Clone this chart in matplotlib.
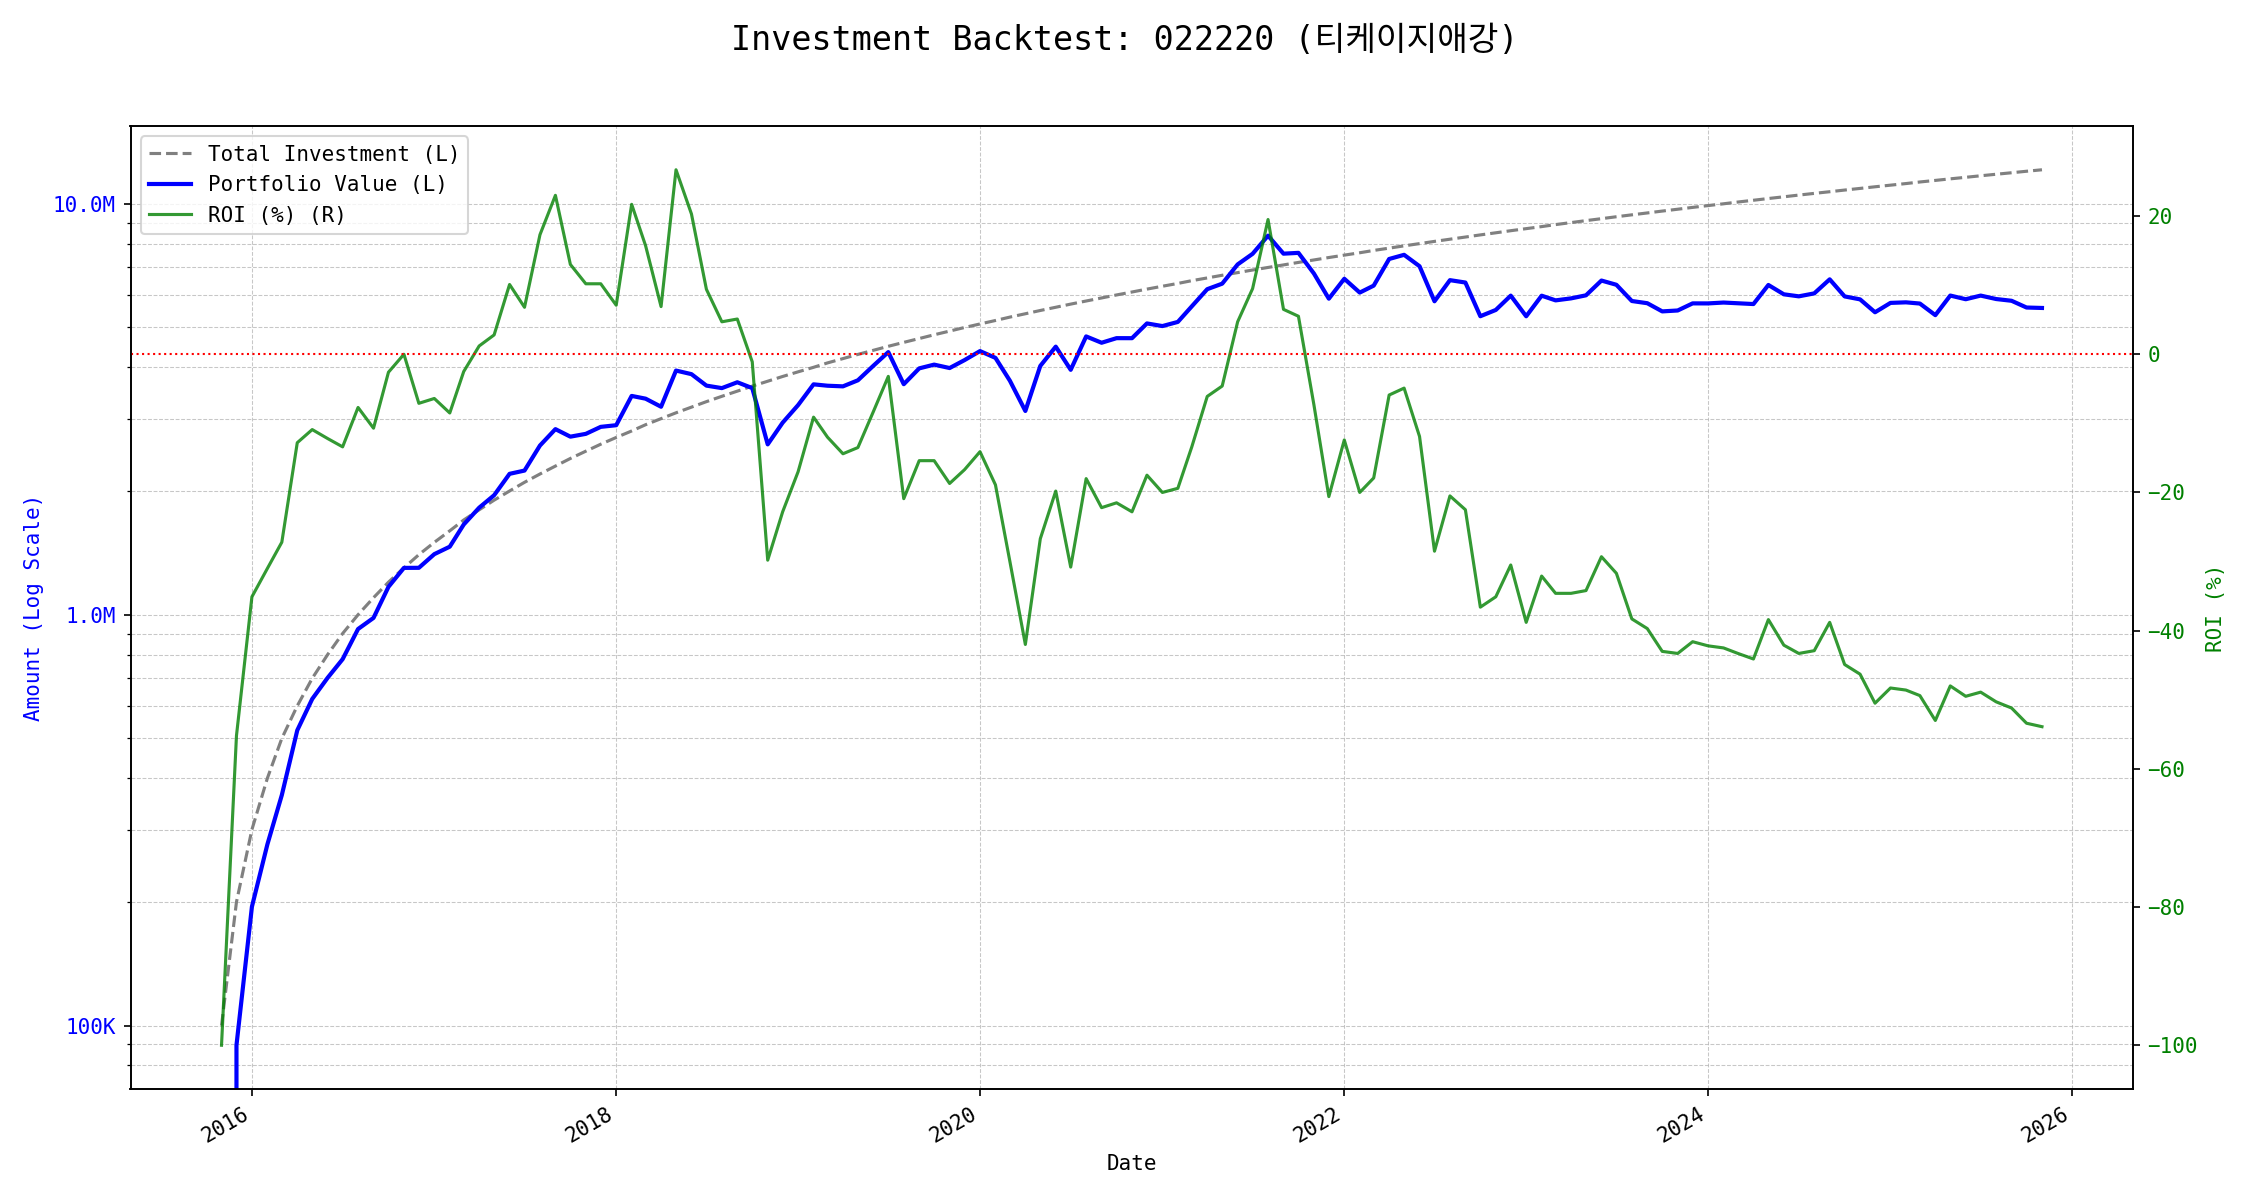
import numpy as np
import pandas as pd
import matplotlib
matplotlib.use("Agg")
import matplotlib.pyplot as plt
from matplotlib.ticker import FuncFormatter

plt.rcParams['font.family'] = ['DejaVu Sans Mono', 'Noto Sans CJK KR']

# monthly backtest data (Nov 2015 - Nov 2025)
dates = pd.date_range("2015-11-01", periods=121, freq="MS")
monthly_deposit = 100_000
roi = [
    -100.0, -55.2, -35.1, -31.0, -27.2, -12.8, -10.9, -12.2, -13.4, -7.7,
    -10.7, -2.6, 0.0, -7.1, -6.4, -8.5, -2.5, 1.2, 2.8, 10.1,
    6.8, 17.3, 23.0, 13.0, 10.2, 10.2, 7.1, 21.7, 15.7, 6.9,
    26.7, 20.3, 9.4, 4.7, 5.1, -1.1, -29.8, -22.8, -17.0, -9.1,
    -12.0, -14.4, -13.5, -8.3, -3.2, -20.9, -15.4, -15.4, -18.7, -16.7,
    -14.1, -18.9, -30.0, -42.0, -26.7, -19.8, -30.8, -18.0, -22.2, -21.5,
    -22.8, -17.5, -20.0, -19.4, -13.4, -6.1, -4.6, 4.7, 9.5, 19.5,
    6.5, 5.5, -7.3, -20.6, -12.4, -20.0, -17.9, -5.9, -4.9, -11.9,
    -28.5, -20.5, -22.5, -36.6, -35.1, -30.5, -38.8, -32.1, -34.6, -34.6,
    -34.2, -29.3, -31.7, -38.3, -39.7, -43.0, -43.3, -41.6, -42.2, -42.5,
    -43.3, -44.1, -38.4, -42.1, -43.3, -42.9, -38.8, -44.9, -46.3, -50.5,
    -48.3, -48.6, -49.4, -53.0, -48.0, -49.5, -48.9, -50.3, -51.2, -53.4,
    -53.9,
]

total_invest = np.cumsum([monthly_deposit] * len(dates))
roi = np.array(roi)
portfolio = total_invest * (1 + roi / 100)


def amount_fmt(x, pos):
    if x >= 1e6:
        return f"{x / 1e6:.1f}M"
    if x >= 1e3:
        return f"{x / 1e3:.0f}K"
    return f"{x:.0f}"


fig, ax1 = plt.subplots(figsize=(15, 8), dpi=150)

l1, = ax1.plot(dates, total_invest, color="gray", linestyle="--", linewidth=1.5,
               label="Total Investment (L)")
l2, = ax1.plot(dates, portfolio, color="blue", linewidth=2,
               label="Portfolio Value (L)")
ax1.set_yscale("log")
ax1.yaxis.set_major_formatter(FuncFormatter(amount_fmt))
ax1.set_xlabel("Date")
ax1.set_ylabel("Amount (Log Scale)", color="blue")
ax1.tick_params(axis="y", labelcolor="blue")
ax1.grid(True, which="both", linestyle="--", linewidth=0.5, alpha=0.7)

ax2 = ax1.twinx()
l3, = ax2.plot(dates, roi, color="green", alpha=0.8, linewidth=1.5,
               label="ROI (%) (R)")
ax2.axhline(0, color="red", linestyle=":", linewidth=1)
ax2.set_ylabel("ROI (%)", color="green")
ax2.tick_params(axis="y", labelcolor="green")

ax1.legend(handles=[l1, l2, l3], loc="upper left")

fig.suptitle("Investment Backtest: 022220 (티케이지애강)", fontsize=16)
fig.autofmt_xdate()
fig.subplots_adjust(left=0.058, right=0.948, top=0.895, bottom=0.0925)
fig.savefig("out.png")
